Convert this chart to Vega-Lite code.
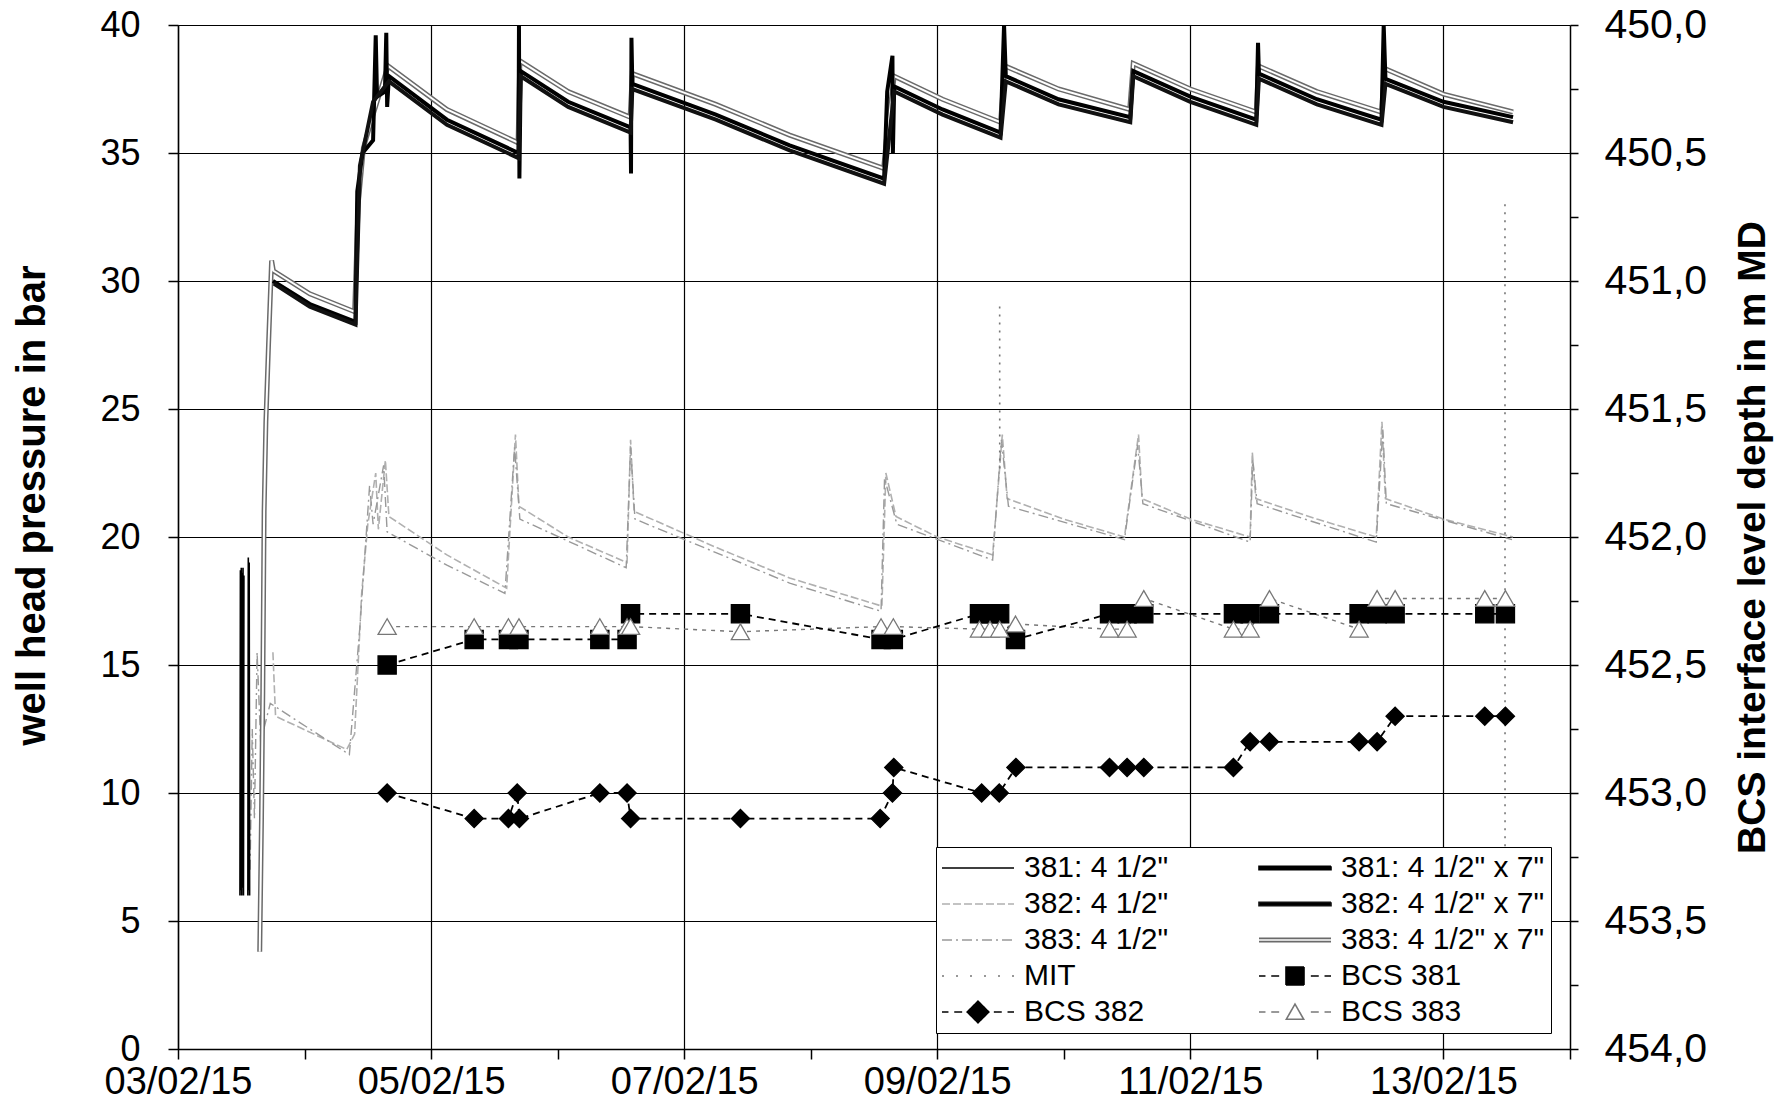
{
  "$schema": "https://vega.github.io/schema/vega-lite/v6.json",
  "width": 1392,
  "height": 1024,
  "autosize": {"type": "none"},
  "padding": {"left": 178, "top": 25, "right": 220, "bottom": 71},
  "background": "white",
  "config": {
    "font": "Liberation Sans",
    "view": {"stroke": null},
    "axis": {
      "domainColor": "black", "domainWidth": 1.5, "tickColor": "black", "tickWidth": 1.5,
      "gridColor": "black", "gridWidth": 1.2, "labelColor": "black", "titleColor": "black",
      "labelFont": "Liberation Sans", "titleFont": "Liberation Sans"
    }
  },
  "datasets": {
    "press": [
      {"s": "381: 4 1/2\"", "g": "a1", "t": "2015-02-03T11:45", "p": 6},
      {"s": "381: 4 1/2\"", "g": "a1", "t": "2015-02-03T11:50", "p": 18.7},
      {"s": "381: 4 1/2\"", "g": "a1", "t": "2015-02-03T11:55", "p": 6.2},
      {"s": "381: 4 1/2\"", "g": "a1", "t": "2015-02-03T12:00", "p": 18.8},
      {"s": "381: 4 1/2\"", "g": "a1", "t": "2015-02-03T12:05", "p": 6},
      {"s": "381: 4 1/2\"", "g": "a1", "t": "2015-02-03T12:10", "p": 18.6},
      {"s": "381: 4 1/2\"", "g": "a1", "t": "2015-02-03T12:15", "p": 6.3},
      {"s": "381: 4 1/2\"", "g": "a1", "t": "2015-02-03T12:20", "p": 18.8},
      {"s": "381: 4 1/2\"", "g": "a1", "t": "2015-02-03T12:25", "p": 6},
      {"s": "381: 4 1/2\"", "g": "a1", "t": "2015-02-03T12:30", "p": 18.5},
      {"s": "381: 4 1/2\"", "g": "a2", "t": "2015-02-03T13:15", "p": 6},
      {"s": "381: 4 1/2\"", "g": "a2", "t": "2015-02-03T13:20", "p": 19.2},
      {"s": "381: 4 1/2\"", "g": "a2", "t": "2015-02-03T13:25", "p": 6.2},
      {"s": "381: 4 1/2\"", "g": "a2", "t": "2015-02-03T13:30", "p": 19},
      {"s": "381: 4 1/2\"", "g": "a2", "t": "2015-02-03T13:35", "p": 6},

      {"s": "381: 4 1/2\" x 7\"", "g": "b", "t": "2015-02-03T18:00", "p": 30.0},
      {"s": "381: 4 1/2\" x 7\"", "g": "b", "t": "2015-02-04T01:00", "p": 29.1},
      {"s": "381: 4 1/2\" x 7\"", "g": "b", "t": "2015-02-04T09:40", "p": 28.4},
      {"s": "381: 4 1/2\" x 7\"", "g": "b", "t": "2015-02-04T10:00", "p": 33.5},
      {"s": "381: 4 1/2\" x 7\"", "g": "b", "t": "2015-02-04T11:00", "p": 35.0},
      {"s": "381: 4 1/2\" x 7\"", "g": "b", "t": "2015-02-04T13:00", "p": 35.5},
      {"s": "381: 4 1/2\" x 7\"", "g": "b", "t": "2015-02-04T13:30", "p": 39.6},
      {"s": "381: 4 1/2\" x 7\"", "g": "b", "t": "2015-02-04T13:45", "p": 37.2},
      {"s": "381: 4 1/2\" x 7\"", "g": "b", "t": "2015-02-04T15:15", "p": 37.4},
      {"s": "381: 4 1/2\" x 7\"", "g": "b", "t": "2015-02-04T15:30", "p": 39.7},
      {"s": "381: 4 1/2\" x 7\"", "g": "b", "t": "2015-02-04T15:40", "p": 36.8},
      {"s": "381: 4 1/2\" x 7\"", "g": "b", "t": "2015-02-04T16:00", "p": 38.0},
      {"s": "381: 4 1/2\" x 7\"", "g": "b", "t": "2015-02-05T03:00", "p": 36.3},
      {"s": "381: 4 1/2\" x 7\"", "g": "b", "t": "2015-02-05T16:35", "p": 35.0},
      {"s": "381: 4 1/2\" x 7\"", "g": "b", "t": "2015-02-05T16:40", "p": 40.0},
      {"s": "381: 4 1/2\" x 7\"", "g": "b", "t": "2015-02-05T16:45", "p": 34.0},
      {"s": "381: 4 1/2\" x 7\"", "g": "b", "t": "2015-02-05T17:00", "p": 38.2},
      {"s": "381: 4 1/2\" x 7\"", "g": "b", "t": "2015-02-06T02:00", "p": 37.0},
      {"s": "381: 4 1/2\" x 7\"", "g": "b", "t": "2015-02-06T13:50", "p": 36.0},
      {"s": "381: 4 1/2\" x 7\"", "g": "b", "t": "2015-02-06T13:55", "p": 34.2},
      {"s": "381: 4 1/2\" x 7\"", "g": "b", "t": "2015-02-06T14:00", "p": 39.5},
      {"s": "381: 4 1/2\" x 7\"", "g": "b", "t": "2015-02-06T14:10", "p": 37.7},
      {"s": "381: 4 1/2\" x 7\"", "g": "b", "t": "2015-02-07T06:00", "p": 36.5},
      {"s": "381: 4 1/2\" x 7\"", "g": "b", "t": "2015-02-07T20:00", "p": 35.3},
      {"s": "381: 4 1/2\" x 7\"", "g": "b", "t": "2015-02-08T13:55", "p": 34.0},
      {"s": "381: 4 1/2\" x 7\"", "g": "b", "t": "2015-02-08T14:30", "p": 37.4},
      {"s": "381: 4 1/2\" x 7\"", "g": "b", "t": "2015-02-08T15:30", "p": 38.8},
      {"s": "381: 4 1/2\" x 7\"", "g": "b", "t": "2015-02-08T15:35", "p": 35.0},
      {"s": "381: 4 1/2\" x 7\"", "g": "b", "t": "2015-02-08T15:50", "p": 37.6},
      {"s": "381: 4 1/2\" x 7\"", "g": "b", "t": "2015-02-09T01:00", "p": 36.7},
      {"s": "381: 4 1/2\" x 7\"", "g": "b", "t": "2015-02-09T12:00", "p": 35.8},
      {"s": "381: 4 1/2\" x 7\"", "g": "b", "t": "2015-02-09T12:40", "p": 40.0},
      {"s": "381: 4 1/2\" x 7\"", "g": "b", "t": "2015-02-09T13:00", "p": 38.0},
      {"s": "381: 4 1/2\" x 7\"", "g": "b", "t": "2015-02-09T23:00", "p": 37.1},
      {"s": "381: 4 1/2\" x 7\"", "g": "b", "t": "2015-02-10T12:36", "p": 36.4},
      {"s": "381: 4 1/2\" x 7\"", "g": "b", "t": "2015-02-10T13:10", "p": 38.2},
      {"s": "381: 4 1/2\" x 7\"", "g": "b", "t": "2015-02-11T00:00", "p": 37.2},
      {"s": "381: 4 1/2\" x 7\"", "g": "b", "t": "2015-02-11T12:30", "p": 36.3},
      {"s": "381: 4 1/2\" x 7\"", "g": "b", "t": "2015-02-11T12:50", "p": 39.3},
      {"s": "381: 4 1/2\" x 7\"", "g": "b", "t": "2015-02-11T13:00", "p": 38.1},
      {"s": "381: 4 1/2\" x 7\"", "g": "b", "t": "2015-02-12T00:00", "p": 37.1},
      {"s": "381: 4 1/2\" x 7\"", "g": "b", "t": "2015-02-12T12:15", "p": 36.3},
      {"s": "381: 4 1/2\" x 7\"", "g": "b", "t": "2015-02-12T12:40", "p": 40.0},
      {"s": "381: 4 1/2\" x 7\"", "g": "b", "t": "2015-02-12T13:00", "p": 37.9},
      {"s": "381: 4 1/2\" x 7\"", "g": "b", "t": "2015-02-13T00:00", "p": 37.0},
      {"s": "381: 4 1/2\" x 7\"", "g": "b", "t": "2015-02-13T13:12", "p": 36.4},

      {"s": "382: 4 1/2\" x 7\"", "g": "d", "t": "2015-02-03T18:10", "p": 29.9},
      {"s": "382: 4 1/2\" x 7\"", "g": "d", "t": "2015-02-04T01:00", "p": 29.0},
      {"s": "382: 4 1/2\" x 7\"", "g": "d", "t": "2015-02-04T09:40", "p": 28.3},
      {"s": "382: 4 1/2\" x 7\"", "g": "d", "t": "2015-02-04T10:30", "p": 34.5},
      {"s": "382: 4 1/2\" x 7\"", "g": "d", "t": "2015-02-04T13:00", "p": 37.0},
      {"s": "382: 4 1/2\" x 7\"", "g": "d", "t": "2015-02-04T16:00", "p": 37.8},
      {"s": "382: 4 1/2\" x 7\"", "g": "d", "t": "2015-02-05T03:00", "p": 36.1},
      {"s": "382: 4 1/2\" x 7\"", "g": "d", "t": "2015-02-05T16:35", "p": 34.8},
      {"s": "382: 4 1/2\" x 7\"", "g": "d", "t": "2015-02-05T17:00", "p": 38.0},
      {"s": "382: 4 1/2\" x 7\"", "g": "d", "t": "2015-02-06T02:00", "p": 36.8},
      {"s": "382: 4 1/2\" x 7\"", "g": "d", "t": "2015-02-06T13:50", "p": 35.8},
      {"s": "382: 4 1/2\" x 7\"", "g": "d", "t": "2015-02-06T14:10", "p": 37.5},
      {"s": "382: 4 1/2\" x 7\"", "g": "d", "t": "2015-02-07T06:00", "p": 36.3},
      {"s": "382: 4 1/2\" x 7\"", "g": "d", "t": "2015-02-07T20:00", "p": 35.1},
      {"s": "382: 4 1/2\" x 7\"", "g": "d", "t": "2015-02-08T13:55", "p": 33.8},
      {"s": "382: 4 1/2\" x 7\"", "g": "d", "t": "2015-02-08T15:50", "p": 37.4},
      {"s": "382: 4 1/2\" x 7\"", "g": "d", "t": "2015-02-09T01:00", "p": 36.5},
      {"s": "382: 4 1/2\" x 7\"", "g": "d", "t": "2015-02-09T12:00", "p": 35.6},
      {"s": "382: 4 1/2\" x 7\"", "g": "d", "t": "2015-02-09T13:00", "p": 37.8},
      {"s": "382: 4 1/2\" x 7\"", "g": "d", "t": "2015-02-09T23:00", "p": 36.9},
      {"s": "382: 4 1/2\" x 7\"", "g": "d", "t": "2015-02-10T12:36", "p": 36.2},
      {"s": "382: 4 1/2\" x 7\"", "g": "d", "t": "2015-02-10T13:10", "p": 38.0},
      {"s": "382: 4 1/2\" x 7\"", "g": "d", "t": "2015-02-11T00:00", "p": 37.0},
      {"s": "382: 4 1/2\" x 7\"", "g": "d", "t": "2015-02-11T12:30", "p": 36.1},
      {"s": "382: 4 1/2\" x 7\"", "g": "d", "t": "2015-02-11T13:00", "p": 37.9},
      {"s": "382: 4 1/2\" x 7\"", "g": "d", "t": "2015-02-12T00:00", "p": 36.9},
      {"s": "382: 4 1/2\" x 7\"", "g": "d", "t": "2015-02-12T12:15", "p": 36.1},
      {"s": "382: 4 1/2\" x 7\"", "g": "d", "t": "2015-02-12T13:00", "p": 37.7},
      {"s": "382: 4 1/2\" x 7\"", "g": "d", "t": "2015-02-13T00:00", "p": 36.8},
      {"s": "382: 4 1/2\" x 7\"", "g": "d", "t": "2015-02-13T13:12", "p": 36.2},

      {"s": "383: 4 1/2\" x 7\"", "g": "f", "t": "2015-02-03T15:30", "p": 3.8},
      {"s": "383: 4 1/2\" x 7\"", "g": "f", "t": "2015-02-03T15:50", "p": 9},
      {"s": "383: 4 1/2\" x 7\"", "g": "f", "t": "2015-02-03T16:05", "p": 14},
      {"s": "383: 4 1/2\" x 7\"", "g": "f", "t": "2015-02-03T16:20", "p": 21},
      {"s": "383: 4 1/2\" x 7\"", "g": "f", "t": "2015-02-03T16:40", "p": 24.5},
      {"s": "383: 4 1/2\" x 7\"", "g": "f", "t": "2015-02-03T17:10", "p": 27.5},
      {"s": "383: 4 1/2\" x 7\"", "g": "f", "t": "2015-02-03T17:45", "p": 30.8},
      {"s": "383: 4 1/2\" x 7\"", "g": "f", "t": "2015-02-03T18:05", "p": 30.4},
      {"s": "383: 4 1/2\" x 7\"", "g": "f", "t": "2015-02-04T01:00", "p": 29.5},
      {"s": "383: 4 1/2\" x 7\"", "g": "f", "t": "2015-02-04T09:30", "p": 28.8},
      {"s": "383: 4 1/2\" x 7\"", "g": "f", "t": "2015-02-04T10:10", "p": 33},
      {"s": "383: 4 1/2\" x 7\"", "g": "f", "t": "2015-02-04T11:10", "p": 35.2},
      {"s": "383: 4 1/2\" x 7\"", "g": "f", "t": "2015-02-04T13:00", "p": 36.5},
      {"s": "383: 4 1/2\" x 7\"", "g": "f", "t": "2015-02-04T15:50", "p": 38.4},
      {"s": "383: 4 1/2\" x 7\"", "g": "f", "t": "2015-02-05T03:00", "p": 36.7},
      {"s": "383: 4 1/2\" x 7\"", "g": "f", "t": "2015-02-05T16:30", "p": 35.4},
      {"s": "383: 4 1/2\" x 7\"", "g": "f", "t": "2015-02-05T16:50", "p": 38.6},
      {"s": "383: 4 1/2\" x 7\"", "g": "f", "t": "2015-02-06T02:00", "p": 37.4},
      {"s": "383: 4 1/2\" x 7\"", "g": "f", "t": "2015-02-06T13:45", "p": 36.4},
      {"s": "383: 4 1/2\" x 7\"", "g": "f", "t": "2015-02-06T14:10", "p": 38.1},
      {"s": "383: 4 1/2\" x 7\"", "g": "f", "t": "2015-02-07T06:00", "p": 36.9},
      {"s": "383: 4 1/2\" x 7\"", "g": "f", "t": "2015-02-07T20:00", "p": 35.7},
      {"s": "383: 4 1/2\" x 7\"", "g": "f", "t": "2015-02-08T13:50", "p": 34.4},
      {"s": "383: 4 1/2\" x 7\"", "g": "f", "t": "2015-02-08T14:20", "p": 35.5},
      {"s": "383: 4 1/2\" x 7\"", "g": "f", "t": "2015-02-08T15:50", "p": 38.0},
      {"s": "383: 4 1/2\" x 7\"", "g": "f", "t": "2015-02-09T01:00", "p": 37.1},
      {"s": "383: 4 1/2\" x 7\"", "g": "f", "t": "2015-02-09T12:00", "p": 36.2},
      {"s": "383: 4 1/2\" x 7\"", "g": "f", "t": "2015-02-09T12:50", "p": 38.4},
      {"s": "383: 4 1/2\" x 7\"", "g": "f", "t": "2015-02-09T23:00", "p": 37.5},
      {"s": "383: 4 1/2\" x 7\"", "g": "f", "t": "2015-02-10T12:30", "p": 36.7},
      {"s": "383: 4 1/2\" x 7\"", "g": "f", "t": "2015-02-10T13:10", "p": 38.5},
      {"s": "383: 4 1/2\" x 7\"", "g": "f", "t": "2015-02-11T00:00", "p": 37.5},
      {"s": "383: 4 1/2\" x 7\"", "g": "f", "t": "2015-02-11T12:30", "p": 36.6},
      {"s": "383: 4 1/2\" x 7\"", "g": "f", "t": "2015-02-11T12:55", "p": 38.4},
      {"s": "383: 4 1/2\" x 7\"", "g": "f", "t": "2015-02-12T00:00", "p": 37.4},
      {"s": "383: 4 1/2\" x 7\"", "g": "f", "t": "2015-02-12T12:15", "p": 36.6},
      {"s": "383: 4 1/2\" x 7\"", "g": "f", "t": "2015-02-12T12:50", "p": 38.3},
      {"s": "383: 4 1/2\" x 7\"", "g": "f", "t": "2015-02-13T00:00", "p": 37.3},
      {"s": "383: 4 1/2\" x 7\"", "g": "f", "t": "2015-02-13T13:12", "p": 36.6},

      {"s": "382: 4 1/2\"", "g": "c", "t": "2015-02-03T18:00", "p": 15.5},
      {"s": "382: 4 1/2\"", "g": "c", "t": "2015-02-03T18:30", "p": 13},
      {"s": "382: 4 1/2\"", "g": "c", "t": "2015-02-04T08:00", "p": 11.7},
      {"s": "382: 4 1/2\"", "g": "c", "t": "2015-02-04T09:30", "p": 12.3},
      {"s": "382: 4 1/2\"", "g": "c", "t": "2015-02-04T10:50", "p": 17.8},
      {"s": "382: 4 1/2\"", "g": "c", "t": "2015-02-04T12:00", "p": 20.5},
      {"s": "382: 4 1/2\"", "g": "c", "t": "2015-02-04T13:30", "p": 22.5},
      {"s": "382: 4 1/2\"", "g": "c", "t": "2015-02-04T14:00", "p": 20.3},
      {"s": "382: 4 1/2\"", "g": "c", "t": "2015-02-04T15:20", "p": 23},
      {"s": "382: 4 1/2\"", "g": "c", "t": "2015-02-04T16:00", "p": 20.8},
      {"s": "382: 4 1/2\"", "g": "c", "t": "2015-02-05T03:00", "p": 19.3},
      {"s": "382: 4 1/2\"", "g": "c", "t": "2015-02-05T14:20", "p": 18.0},
      {"s": "382: 4 1/2\"", "g": "c", "t": "2015-02-05T16:00", "p": 24},
      {"s": "382: 4 1/2\"", "g": "c", "t": "2015-02-05T16:40", "p": 21.2},
      {"s": "382: 4 1/2\"", "g": "c", "t": "2015-02-06T02:00", "p": 20.0},
      {"s": "382: 4 1/2\"", "g": "c", "t": "2015-02-06T13:10", "p": 19.0},
      {"s": "382: 4 1/2\"", "g": "c", "t": "2015-02-06T13:50", "p": 23.8},
      {"s": "382: 4 1/2\"", "g": "c", "t": "2015-02-06T14:30", "p": 21.0},
      {"s": "382: 4 1/2\"", "g": "c", "t": "2015-02-07T06:00", "p": 19.6},
      {"s": "382: 4 1/2\"", "g": "c", "t": "2015-02-07T20:00", "p": 18.4},
      {"s": "382: 4 1/2\"", "g": "c", "t": "2015-02-08T13:30", "p": 17.3},
      {"s": "382: 4 1/2\"", "g": "c", "t": "2015-02-08T14:15", "p": 22.5},
      {"s": "382: 4 1/2\"", "g": "c", "t": "2015-02-08T16:10", "p": 20.8},
      {"s": "382: 4 1/2\"", "g": "c", "t": "2015-02-09T00:00", "p": 20.0},
      {"s": "382: 4 1/2\"", "g": "c", "t": "2015-02-09T10:30", "p": 19.3},
      {"s": "382: 4 1/2\"", "g": "c", "t": "2015-02-09T12:20", "p": 24},
      {"s": "382: 4 1/2\"", "g": "c", "t": "2015-02-09T13:15", "p": 21.5},
      {"s": "382: 4 1/2\"", "g": "c", "t": "2015-02-10T00:00", "p": 20.7},
      {"s": "382: 4 1/2\"", "g": "c", "t": "2015-02-10T11:30", "p": 20.0},
      {"s": "382: 4 1/2\"", "g": "c", "t": "2015-02-10T14:10", "p": 24},
      {"s": "382: 4 1/2\"", "g": "c", "t": "2015-02-10T14:50", "p": 21.5},
      {"s": "382: 4 1/2\"", "g": "c", "t": "2015-02-11T00:00", "p": 20.7},
      {"s": "382: 4 1/2\"", "g": "c", "t": "2015-02-11T11:20", "p": 20.0},
      {"s": "382: 4 1/2\"", "g": "c", "t": "2015-02-11T11:45", "p": 23.3},
      {"s": "382: 4 1/2\"", "g": "c", "t": "2015-02-11T12:25", "p": 21.5},
      {"s": "382: 4 1/2\"", "g": "c", "t": "2015-02-12T00:00", "p": 20.7},
      {"s": "382: 4 1/2\"", "g": "c", "t": "2015-02-12T11:15", "p": 20.0},
      {"s": "382: 4 1/2\"", "g": "c", "t": "2015-02-12T12:20", "p": 24.5},
      {"s": "382: 4 1/2\"", "g": "c", "t": "2015-02-12T13:00", "p": 21.5},
      {"s": "382: 4 1/2\"", "g": "c", "t": "2015-02-13T00:00", "p": 20.7},
      {"s": "382: 4 1/2\"", "g": "c", "t": "2015-02-13T13:12", "p": 20.0},

      {"s": "383: 4 1/2\"", "g": "e", "t": "2015-02-03T13:40", "p": 7},
      {"s": "383: 4 1/2\"", "g": "e", "t": "2015-02-03T14:05", "p": 12.5},
      {"s": "383: 4 1/2\"", "g": "e", "t": "2015-02-03T14:30", "p": 9},
      {"s": "383: 4 1/2\"", "g": "e", "t": "2015-02-03T15:00", "p": 15.5},
      {"s": "383: 4 1/2\"", "g": "e", "t": "2015-02-03T15:40", "p": 12},
      {"s": "383: 4 1/2\"", "g": "e", "t": "2015-02-03T17:30", "p": 13.5},
      {"s": "383: 4 1/2\"", "g": "e", "t": "2015-02-04T08:30", "p": 11.5},
      {"s": "383: 4 1/2\"", "g": "e", "t": "2015-02-04T10:30", "p": 16.5},
      {"s": "383: 4 1/2\"", "g": "e", "t": "2015-02-04T12:20", "p": 22},
      {"s": "383: 4 1/2\"", "g": "e", "t": "2015-02-04T13:00", "p": 20.5},
      {"s": "383: 4 1/2\"", "g": "e", "t": "2015-02-04T15:00", "p": 22.8},
      {"s": "383: 4 1/2\"", "g": "e", "t": "2015-02-04T15:40", "p": 20.2},
      {"s": "383: 4 1/2\"", "g": "e", "t": "2015-02-05T03:00", "p": 18.9},
      {"s": "383: 4 1/2\"", "g": "e", "t": "2015-02-05T14:00", "p": 17.8},
      {"s": "383: 4 1/2\"", "g": "e", "t": "2015-02-05T15:50", "p": 23.5},
      {"s": "383: 4 1/2\"", "g": "e", "t": "2015-02-05T16:50", "p": 20.7},
      {"s": "383: 4 1/2\"", "g": "e", "t": "2015-02-06T13:00", "p": 18.8},
      {"s": "383: 4 1/2\"", "g": "e", "t": "2015-02-06T13:50", "p": 23.5},
      {"s": "383: 4 1/2\"", "g": "e", "t": "2015-02-06T14:40", "p": 20.7},
      {"s": "383: 4 1/2\"", "g": "e", "t": "2015-02-07T20:00", "p": 18.2},
      {"s": "383: 4 1/2\"", "g": "e", "t": "2015-02-08T13:20", "p": 17.1},
      {"s": "383: 4 1/2\"", "g": "e", "t": "2015-02-08T14:00", "p": 22.3},
      {"s": "383: 4 1/2\"", "g": "e", "t": "2015-02-08T16:20", "p": 20.5},
      {"s": "383: 4 1/2\"", "g": "e", "t": "2015-02-09T10:30", "p": 19.1},
      {"s": "383: 4 1/2\"", "g": "e", "t": "2015-02-09T12:10", "p": 23.8},
      {"s": "383: 4 1/2\"", "g": "e", "t": "2015-02-09T13:30", "p": 21.2},
      {"s": "383: 4 1/2\"", "g": "e", "t": "2015-02-10T11:30", "p": 19.9},
      {"s": "383: 4 1/2\"", "g": "e", "t": "2015-02-10T14:00", "p": 23.6},
      {"s": "383: 4 1/2\"", "g": "e", "t": "2015-02-10T15:00", "p": 21.3},
      {"s": "383: 4 1/2\"", "g": "e", "t": "2015-02-11T11:20", "p": 19.8},
      {"s": "383: 4 1/2\"", "g": "e", "t": "2015-02-11T11:50", "p": 23},
      {"s": "383: 4 1/2\"", "g": "e", "t": "2015-02-11T12:40", "p": 21.3},
      {"s": "383: 4 1/2\"", "g": "e", "t": "2015-02-12T11:15", "p": 19.8},
      {"s": "383: 4 1/2\"", "g": "e", "t": "2015-02-12T12:30", "p": 24.2},
      {"s": "383: 4 1/2\"", "g": "e", "t": "2015-02-12T13:10", "p": 21.3},
      {"s": "383: 4 1/2\"", "g": "e", "t": "2015-02-13T13:00", "p": 19.9},

      {"s": "MIT", "g": "g1", "t": "2015-02-09T11:50", "p": 29},
      {"s": "MIT", "g": "g1", "t": "2015-02-09T11:51", "p": 22.5},
      {"s": "MIT", "g": "g2", "t": "2015-02-13T11:40", "p": 33},
      {"s": "MIT", "g": "g2", "t": "2015-02-13T11:41", "p": 2.5}
    ],
    "bcs": [
      {"s": "BCS 381", "t": "2015-02-04T15:40", "d": 452.5},
      {"s": "BCS 381", "t": "2015-02-05T08:10", "d": 452.4},
      {"s": "BCS 381", "t": "2015-02-05T14:40", "d": 452.4},
      {"s": "BCS 381", "t": "2015-02-05T16:40", "d": 452.4},
      {"s": "BCS 381", "t": "2015-02-06T08:00", "d": 452.4},
      {"s": "BCS 381", "t": "2015-02-06T13:10", "d": 452.4},
      {"s": "BCS 381", "t": "2015-02-06T13:50", "d": 452.3},
      {"s": "BCS 381", "t": "2015-02-07T10:40", "d": 452.3},
      {"s": "BCS 381", "t": "2015-02-08T13:20", "d": 452.4},
      {"s": "BCS 381", "t": "2015-02-08T15:40", "d": 452.4},
      {"s": "BCS 381", "t": "2015-02-09T08:00", "d": 452.3},
      {"s": "BCS 381", "t": "2015-02-09T10:00", "d": 452.3},
      {"s": "BCS 381", "t": "2015-02-09T11:50", "d": 452.3},
      {"s": "BCS 381", "t": "2015-02-09T14:50", "d": 452.4},
      {"s": "BCS 381", "t": "2015-02-10T08:40", "d": 452.3},
      {"s": "BCS 381", "t": "2015-02-10T12:00", "d": 452.3},
      {"s": "BCS 381", "t": "2015-02-10T15:10", "d": 452.3},
      {"s": "BCS 381", "t": "2015-02-11T08:10", "d": 452.3},
      {"s": "BCS 381", "t": "2015-02-11T11:20", "d": 452.3},
      {"s": "BCS 381", "t": "2015-02-11T15:00", "d": 452.3},
      {"s": "BCS 381", "t": "2015-02-12T08:00", "d": 452.3},
      {"s": "BCS 381", "t": "2015-02-12T11:25", "d": 452.3},
      {"s": "BCS 381", "t": "2015-02-12T14:50", "d": 452.3},
      {"s": "BCS 381", "t": "2015-02-13T07:50", "d": 452.3},
      {"s": "BCS 381", "t": "2015-02-13T11:45", "d": 452.3},

      {"s": "BCS 382", "t": "2015-02-04T15:40", "d": 453.0},
      {"s": "BCS 382", "t": "2015-02-05T08:10", "d": 453.1},
      {"s": "BCS 382", "t": "2015-02-05T14:40", "d": 453.1},
      {"s": "BCS 382", "t": "2015-02-05T16:20", "d": 453.0},
      {"s": "BCS 382", "t": "2015-02-05T16:45", "d": 453.1},
      {"s": "BCS 382", "t": "2015-02-06T08:00", "d": 453.0},
      {"s": "BCS 382", "t": "2015-02-06T13:10", "d": 453.0},
      {"s": "BCS 382", "t": "2015-02-06T13:50", "d": 453.1},
      {"s": "BCS 382", "t": "2015-02-07T10:40", "d": 453.1},
      {"s": "BCS 382", "t": "2015-02-08T13:10", "d": 453.1},
      {"s": "BCS 382", "t": "2015-02-08T15:30", "d": 453.0},
      {"s": "BCS 382", "t": "2015-02-08T15:45", "d": 452.9},
      {"s": "BCS 382", "t": "2015-02-09T08:25", "d": 453.0},
      {"s": "BCS 382", "t": "2015-02-09T11:45", "d": 453.0},
      {"s": "BCS 382", "t": "2015-02-09T14:55", "d": 452.9},
      {"s": "BCS 382", "t": "2015-02-10T08:40", "d": 452.9},
      {"s": "BCS 382", "t": "2015-02-10T12:00", "d": 452.9},
      {"s": "BCS 382", "t": "2015-02-10T15:10", "d": 452.9},
      {"s": "BCS 382", "t": "2015-02-11T08:10", "d": 452.9},
      {"s": "BCS 382", "t": "2015-02-11T11:20", "d": 452.8},
      {"s": "BCS 382", "t": "2015-02-11T15:00", "d": 452.8},
      {"s": "BCS 382", "t": "2015-02-12T08:00", "d": 452.8},
      {"s": "BCS 382", "t": "2015-02-12T11:25", "d": 452.8},
      {"s": "BCS 382", "t": "2015-02-12T14:50", "d": 452.7},
      {"s": "BCS 382", "t": "2015-02-13T07:50", "d": 452.7},
      {"s": "BCS 382", "t": "2015-02-13T11:45", "d": 452.7},

      {"s": "BCS 383", "t": "2015-02-04T15:40", "d": 452.35},
      {"s": "BCS 383", "t": "2015-02-05T08:10", "d": 452.35},
      {"s": "BCS 383", "t": "2015-02-05T14:40", "d": 452.35},
      {"s": "BCS 383", "t": "2015-02-05T16:40", "d": 452.35},
      {"s": "BCS 383", "t": "2015-02-06T08:00", "d": 452.35},
      {"s": "BCS 383", "t": "2015-02-06T13:10", "d": 452.35},
      {"s": "BCS 383", "t": "2015-02-06T13:50", "d": 452.35},
      {"s": "BCS 383", "t": "2015-02-07T10:40", "d": 452.37},
      {"s": "BCS 383", "t": "2015-02-08T13:20", "d": 452.35},
      {"s": "BCS 383", "t": "2015-02-08T15:40", "d": 452.35},
      {"s": "BCS 383", "t": "2015-02-09T08:00", "d": 452.36},
      {"s": "BCS 383", "t": "2015-02-09T10:00", "d": 452.36},
      {"s": "BCS 383", "t": "2015-02-09T11:50", "d": 452.36},
      {"s": "BCS 383", "t": "2015-02-09T14:50", "d": 452.34},
      {"s": "BCS 383", "t": "2015-02-10T08:40", "d": 452.36},
      {"s": "BCS 383", "t": "2015-02-10T12:00", "d": 452.36},
      {"s": "BCS 383", "t": "2015-02-10T15:10", "d": 452.24},
      {"s": "BCS 383", "t": "2015-02-11T08:10", "d": 452.36},
      {"s": "BCS 383", "t": "2015-02-11T11:20", "d": 452.36},
      {"s": "BCS 383", "t": "2015-02-11T15:00", "d": 452.24},
      {"s": "BCS 383", "t": "2015-02-12T08:00", "d": 452.36},
      {"s": "BCS 383", "t": "2015-02-12T11:25", "d": 452.24},
      {"s": "BCS 383", "t": "2015-02-12T14:50", "d": 452.24},
      {"s": "BCS 383", "t": "2015-02-13T07:50", "d": 452.24},
      {"s": "BCS 383", "t": "2015-02-13T11:45", "d": 452.24}
    ]
  },
  "encoding": {
    "x": {
      "field": "t", "type": "temporal",
      "scale": {"domain": [{"year": 2015, "month": 2, "date": 3}, {"year": 2015, "month": 2, "date": 14}]},
      "axis": {
        "title": null,
        "values": [
          {"year": 2015, "month": 2, "date": 3}, {"year": 2015, "month": 2, "date": 4},
          {"year": 2015, "month": 2, "date": 5}, {"year": 2015, "month": 2, "date": 6},
          {"year": 2015, "month": 2, "date": 7}, {"year": 2015, "month": 2, "date": 8},
          {"year": 2015, "month": 2, "date": 9}, {"year": 2015, "month": 2, "date": 10},
          {"year": 2015, "month": 2, "date": 11}, {"year": 2015, "month": 2, "date": 12},
          {"year": 2015, "month": 2, "date": 13}, {"year": 2015, "month": 2, "date": 14}
        ],
        "labelExpr": "date(datum.value) % 2 == 1 ? timeFormat(datum.value, '%d/%m/%y') : ''",
        "grid": true,
        "gridOpacity": {"condition": {"test": "date(datum.value) % 2 == 1", "value": 1}, "value": 0},
        "tickSize": 10, "labelPadding": 4, "labelFontSize": 38, "labelFlush": false, "labelOverlap": false
      }
    },
    "color": {
      "field": "s", "type": "nominal",
      "scale": {
        "domain": ["381: 4 1/2\"", "381: 4 1/2\" x 7\"", "382: 4 1/2\"", "382: 4 1/2\" x 7\"", "383: 4 1/2\"", "383: 4 1/2\" x 7\"", "MIT", "BCS 381", "BCS 382", "BCS 383"],
        "range": ["#000000", "#000000", "#b0b0b0", "#111111", "#999999", "#6a6a6a", "#777777", "#000000", "#000000", "#777777"]
      },
      "legend": {
        "title": null, "orient": "none", "legendX": 758, "legendY": 822,
        "direction": "horizontal", "columns": 2, "columnPadding": 86, "rowPadding": 6,
        "symbolSize": 576, "symbolStrokeWidth": 1.6, "symbolOffset": 21,
        "labelFontSize": 30, "labelFont": "Liberation Sans", "labelColor": "black",
        "labelOffset": 31, "labelLimit": 400, "padding": 6,
        "strokeColor": "black", "fillColor": "white",
        "encode": {
          "symbols": {
            "update": {
              "shape": {"signal": "datum.index == 7 ? 'M-3,0L-2.46,0M-1.98,0L-1.32,0M1.32,0L1.98,0M2.46,0L3,0M-0.75,-0.75L0.75,-0.75L0.75,0.75L-0.75,0.75Z' : datum.index == 8 ? 'M-3,0L-2.46,0M-1.98,0L-1.32,0M1.32,0L1.98,0M2.46,0L3,0M-0.9,0L0,-0.9L0.9,0L0,0.9Z' : datum.index == 9 ? 'M-3,0L-2.46,0M-1.98,0L-1.32,0M1.32,0L1.98,0M2.46,0L3,0M-0.72,0.6L0,-0.66L0.72,0.6Z' : datum.index == 5 ? 'M-3,-0.135L3,-0.135M-3,0.135L3,0.135' : (datum.index == 1 || datum.index == 3) ? 'M-3,-0.15L3,-0.15L3,0.15L-3,0.15Z' : 'M-3,0L3,0'"},
              "stroke": {"signal": "['#000','#000','#a8a8a8','#000','#8c8c8c','#6a6a6a','#777','#000','#000','#777'][datum.index]"},
              "strokeDash": {"signal": "datum.index == 2 ? [8,3] : datum.index == 4 ? [10,4,2,4] : datum.index == 6 ? [2,12] : [1,0]"},
              "fill": {"signal": "datum.index == 9 ? 'white' : ((datum.index >= 7 || datum.index == 1 || datum.index == 3) ? 'black' : 'transparent')"},
              "opacity": {"value": 1}
            }
          }
        }
      }
    }
  },
  "layer": [
    {
      "data": {"name": "press"},
      "transform": [{"filter": {"field": "s", "equal": "382: 4 1/2\""}}],
      "mark": {"type": "line", "strokeWidth": 1.6, "strokeDash": [8, 3]},
      "encoding": {
        "y": {
          "field": "p", "type": "quantitative",
          "scale": {"domain": [0, 40], "nice": false, "zero": false},
          "axis": {
            "title": "well head pressure in bar", "values": [0, 5, 10, 15, 20, 25, 30, 35, 40],
            "grid": true, "tickSize": 10, "labelPadding": 28, "labelFontSize": 36,
            "titleFontSize": 40, "titleFontWeight": "bold", "titlePadding": 47, "titleY": 480
          }
        },
        "detail": {"field": "g"}
      }
    },
    {
      "data": {"name": "press"},
      "transform": [{"filter": {"field": "s", "equal": "383: 4 1/2\""}}],
      "mark": {"type": "line", "strokeWidth": 1.4, "strokeDash": [10, 4, 2, 4]},
      "encoding": {
        "y": {"field": "p", "type": "quantitative", "scale": {"domain": [0, 40], "nice": false, "zero": false}, "axis": null},
        "detail": {"field": "g"}
      }
    },
    {
      "data": {"name": "press"},
      "transform": [{"filter": {"field": "s", "equal": "MIT"}}],
      "mark": {"type": "line", "strokeWidth": 1.6, "strokeDash": [2, 6]},
      "encoding": {
        "y": {"field": "p", "type": "quantitative", "scale": {"domain": [0, 40], "nice": false, "zero": false}, "axis": null},
        "detail": {"field": "g"}
      }
    },
    {
      "data": {"name": "press"},
      "transform": [{"filter": {"field": "s", "equal": "381: 4 1/2\""}}],
      "mark": {"type": "line", "strokeWidth": 1.6},
      "encoding": {
        "y": {"field": "p", "type": "quantitative", "scale": {"domain": [0, 40], "nice": false, "zero": false}, "axis": null},
        "detail": {"field": "g"}
      }
    },
    {
      "data": {"name": "press"},
      "transform": [{"filter": {"field": "s", "equal": "383: 4 1/2\" x 7\""}}],
      "mark": {"type": "line", "strokeWidth": 5},
      "encoding": {
        "y": {"field": "p", "type": "quantitative", "scale": {"domain": [0, 40], "nice": false, "zero": false}, "axis": null},
        "detail": {"field": "g"}
      }
    },
    {
      "data": {"name": "press"},
      "transform": [{"filter": {"field": "s", "equal": "383: 4 1/2\" x 7\""}}],
      "mark": {"type": "line", "strokeWidth": 2},
      "encoding": {
        "y": {"field": "p", "type": "quantitative", "scale": {"domain": [0, 40], "nice": false, "zero": false}, "axis": null},
        "detail": {"field": "g"},
        "color": {"value": "white"}
      }
    },
    {
      "data": {"name": "press"},
      "transform": [{"filter": {"field": "s", "oneOf": ["381: 4 1/2\" x 7\"", "382: 4 1/2\" x 7\""]}}],
      "mark": {"type": "line", "strokeWidth": 4},
      "encoding": {
        "y": {"field": "p", "type": "quantitative", "scale": {"domain": [0, 40], "nice": false, "zero": false}, "axis": null},
        "detail": {"field": "g"}
      }
    },
    {
      "data": {"name": "bcs"},
      "transform": [{"filter": {"field": "s", "equal": "BCS 383"}}],
      "mark": {"type": "line", "strokeWidth": 1.4, "strokeDash": [4, 5]},
      "encoding": {
        "y": {
          "field": "d", "type": "quantitative",
          "scale": {"domain": [450, 454], "reverse": true, "nice": false, "zero": false},
          "axis": {
            "orient": "right", "title": "BCS interface level depth in m MD",
            "values": [450, 450.25, 450.5, 450.75, 451, 451.25, 451.5, 451.75, 452, 452.25, 452.5, 452.75, 453, 453.25, 453.5, 453.75, 454],
            "labelExpr": "(datum.value * 4) % 2 == 0 ? replace(format(datum.value, '.1f'), '.', ',') : ''",
            "grid": false, "tickSize": 8, "labelPadding": 26, "labelFontSize": 41,
            "titleFontSize": 39, "titleFontWeight": "bold", "titleAngle": 270, "titlePadding": 66
          }
        }
      }
    },
    {
      "data": {"name": "bcs"},
      "transform": [{"filter": {"field": "s", "oneOf": ["BCS 381", "BCS 382"]}}],
      "mark": {"type": "line", "strokeWidth": 1.8, "strokeDash": [7, 5]},
      "encoding": {
        "y": {"field": "d", "type": "quantitative", "scale": {"domain": [450, 454], "reverse": true, "nice": false, "zero": false}, "axis": null}
      }
    },
    {
      "data": {"name": "bcs"},
      "mark": {"type": "point", "filled": true, "size": 330, "opacity": 1, "strokeWidth": 1.3},
      "encoding": {
        "y": {"field": "d", "type": "quantitative", "scale": {"domain": [450, 454], "reverse": true, "nice": false, "zero": false}, "axis": null},
        "shape": {"field": "s", "type": "nominal", "scale": {"domain": ["BCS 381", "BCS 382", "BCS 383"], "range": ["square", "diamond", "triangle-up"]}, "legend": null},
        "fill": {"condition": {"test": "datum.s == 'BCS 383'", "value": "white"}, "value": "black"},
        "stroke": {"condition": {"test": "datum.s == 'BCS 383'", "value": "#777777"}, "value": "black"}
      }
    }
  ],
  "resolve": {"scale": {"y": "independent"}}
}
